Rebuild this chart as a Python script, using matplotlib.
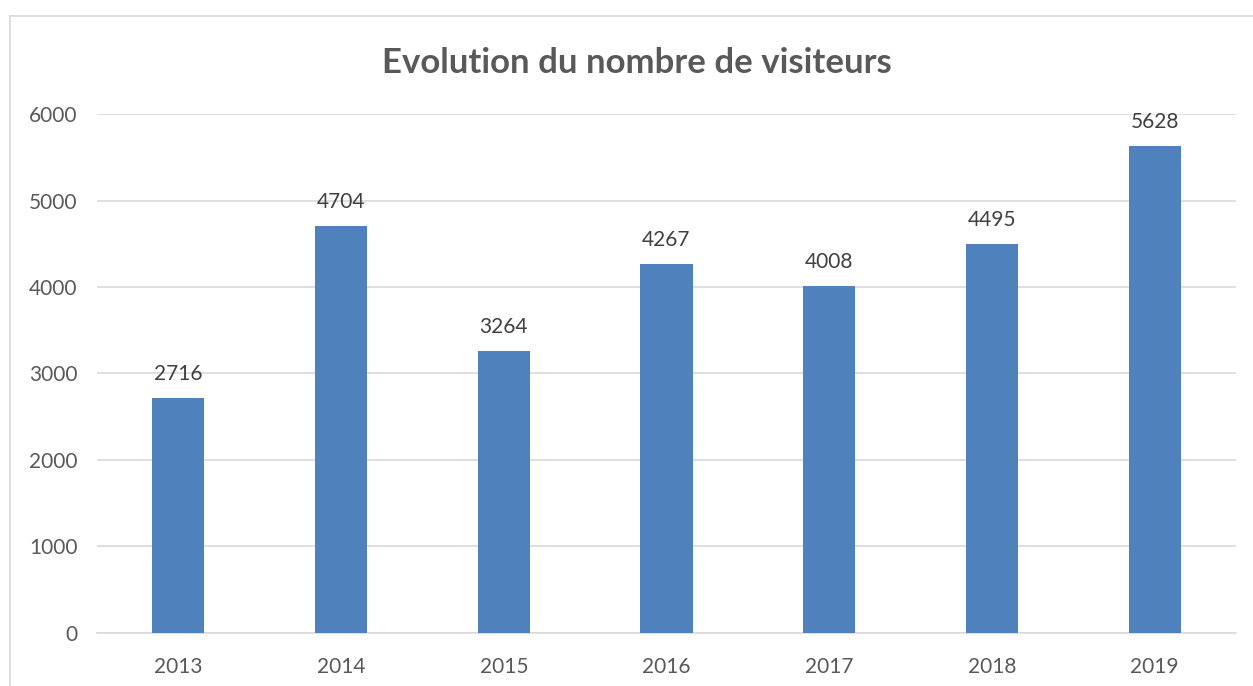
import matplotlib
matplotlib.use("Agg")
import matplotlib.pyplot as plt
from matplotlib.lines import Line2D

years = ["2013", "2014", "2015", "2016", "2017", "2018", "2019"]
visitors = [2716, 4704, 3264, 4267, 4008, 4495, 5628]
y_ticks = [0, 1000, 2000, 3000, 4000, 5000, 6000]

TEXT = "#595959"
BAR = "#4F81BD"
GRID = "#D9D9D9"

plt.rcParams["font.family"] = ["Lato", "DejaVu Sans"]

fig = plt.figure(figsize=(12.53, 6.86), dpi=100)
ax = fig.add_axes([0.0774, 0.0773, 0.909, 0.7565])

x = range(len(years))
bars = ax.bar(x, visitors, width=0.32, color=BAR, zorder=3)
for rect, v in zip(bars, visitors):
    ax.annotate(f"{v}", (rect.get_x() + rect.get_width() / 2, v),
                xytext=(0, 10), textcoords="offset points",
                ha="center", va="bottom", fontsize=15, color="#404040")

ax.set_xlim(-0.5, len(years) - 0.5)
ax.set_ylim(0, 6000)
ax.set_yticks(y_ticks)
ax.set_xticks(list(x))
ax.set_xticklabels(years)
ax.grid(axis="y", color=GRID, linewidth=1.2, zorder=0)
for s in ("top", "right", "left"):
    ax.spines[s].set_visible(False)
ax.spines["bottom"].set_color(GRID)
ax.spines["bottom"].set_linewidth(1.2)
ax.tick_params(axis="both", length=0, labelsize=15, labelcolor=TEXT)
ax.tick_params(axis="y", pad=14)
ax.tick_params(axis="x", pad=17)

fig.text(0.508, 0.908, "Evolution du nombre de visiteurs", ha="center",
         va="center", fontsize=25, fontweight="bold", color=TEXT)

# chart frame (only left and top edges are in view)
fx = 9.5 / 1253
fy = 1 - 15.5 / 686
fig.add_artist(Line2D([fx, fx], [0, fy], transform=fig.transFigure,
                      color=GRID, linewidth=1.2))
fig.add_artist(Line2D([fx, 1], [fy, fy], transform=fig.transFigure,
                      color=GRID, linewidth=1.2))

fig.savefig("out.png", dpi=100)
